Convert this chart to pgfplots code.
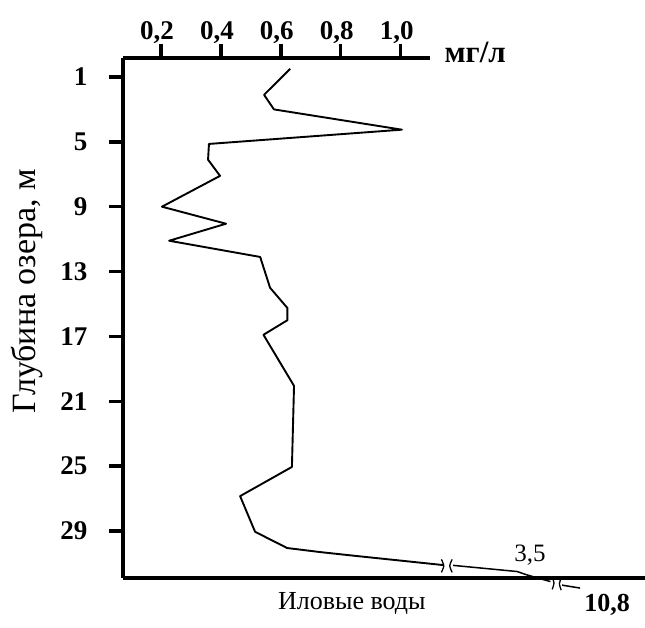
\documentclass[border=0pt]{standalone}
\usepackage{fontspec}
\setmainfont{Liberation Serif}
\usepackage{pgfplots}
\pgfplotsset{compat=1.18}
\begin{document}
\begin{tikzpicture}[x=1pt,y=1pt]
\path[use as bounding box] (0,0) rectangle (645,-628);
\begin{axis}[
 at={(123pt,-578pt)}, anchor=south west,
 scale only axis, width=307pt, height=520pt,
 xmin=0.073, xmax=1.098, ymin=-0.17, ymax=31.9, y dir=reverse,
 axis x line*=top, axis y line*=left,
 axis line style={line width=3.5pt, -},
 xtick={0.2,0.4,0.6,0.8,1.0}, xticklabels={{0,2},{0,4},{0,6},{0,8},{1,0}},
 ytick={1,5,...,29},
 tick align=outside, major tick length=14pt,
 tick style={line width=3.5pt, black},
 ticklabel style={font=\fontsize{27}{31}\selectfont\bfseries},
 yticklabel style={xshift=-18pt},
 xticklabel style={xshift=-4pt, yshift=-3pt},
 /pgf/number format/assume math mode=true,
 clip=false,
]
\addplot[black, line width=1.9pt, line join=round] coordinates {
 (0.631,0.5) (0.544,2.1) (0.577,3.0) (1.004,4.25) (0.360,5.13) (0.357,6.1)
 (0.397,7.1) (0.203,9.0) (0.417,10.05) (0.227,11.1) (0.531,12.1) (0.564,14.0)
 (0.622,15.25) (0.622,16.0) (0.542,16.9) (0.644,20.05) (0.637,25.05)
 (0.464,26.85) (0.514,29.05) (0.621,30.05) (0.731,30.3) (0.831,30.5) (1.141,31.1)
};
\addplot[black, line width=1.5pt] coordinates {
 (1.175,31.12) (1.389,31.5) (1.42,31.7) (1.50,32.12)
};
\addplot[black, line width=1.5pt] coordinates {
 (1.539,32.34) (1.599,32.52)
};
% break marks
\addplot[black, line width=1.3pt, smooth] coordinates {(1.136,30.75) (1.144,31.15) (1.136,31.55)};
\addplot[black, line width=1.3pt, smooth] coordinates {(1.172,30.75) (1.164,31.15) (1.172,31.55)};
\addplot[black, line width=1.3pt, smooth] coordinates {(1.506,31.85) (1.512,32.2) (1.506,32.6)};
\addplot[black, line width=1.3pt, smooth] coordinates {(1.536,31.9) (1.530,32.25) (1.536,32.65)};
% bottom axis line
\draw[line width=3.5pt] (axis cs:0.073,31.9) -- (axis cs:1.82,31.9);
\node[font=\fontsize{31}{35}\selectfont\bfseries] at (axis cs:1.249,-0.54) {мг/л};
\node[rotate=90, font=\fontsize{34}{38}\selectfont] at (axis cs:-0.247,14.2) {Глубина озера, м};
\node[font=\fontsize{26}{30}\selectfont] at (axis cs:0.837,33.45) {Иловые воды};
\node[font=\fontsize{25}{29}\selectfont] at (axis cs:1.432,30.49) {3,5};
\node[font=\fontsize{26}{30}\selectfont\bfseries] at (axis cs:1.689,33.57) {10,8};
\end{axis}
\end{tikzpicture}
\end{document}
